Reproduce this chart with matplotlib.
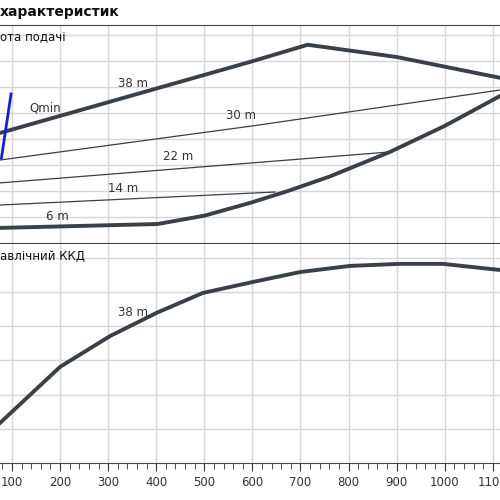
import numpy as np
import matplotlib
matplotlib.use("Agg")
import matplotlib.pyplot as plt
from matplotlib.ticker import MultipleLocator

# Top panel (head) curves
h38_x = [75, 595, 715, 900, 1115]
h38_y = [4.23, 6.96, 7.62, 7.15, 6.35]
max_x = [75, 403, 500, 595, 674, 760, 886, 1000, 1115]
max_y = [0.58, 0.73, 1.05, 1.54, 2.0, 2.55, 3.5, 4.5, 5.65]
h30_x = [75, 600, 1115]
h30_y = [3.19, 4.5, 5.88]
h22_x = [75, 886]
h22_y = [2.31, 3.5]
h14_x = [75, 647]
h14_y = [1.46, 1.96]
qmin_x = [78, 98]
qmin_y = [3.27, 5.73]

# Bottom panel (efficiency) curve
eff_x = [75, 200, 304, 401, 497, 601, 699, 803, 907, 996, 1115]
eff_y = [1.17, 2.81, 3.71, 4.39, 4.97, 5.29, 5.58, 5.76, 5.82, 5.82, 5.64]

xticks = list(range(100, 1200, 100))
dark = "#3a4048"
grid = "#d6d6d6"

fig = plt.figure(figsize=(5, 5), dpi=100)
ax1 = fig.add_axes([0, 0.514, 1, 0.436])
ax2 = fig.add_axes([0, 0.074, 1, 0.438])

for ax, ytop in ((ax1, 8.38), (ax2, 6.4)):
    ax.set_xlim(75, 1115)
    ax.set_ylim(0, ytop)
    ax.set_yticks(np.arange(1, int(ytop) + 1))
    ax.set_xticks(xticks)
    ax.grid(True, color=grid, lw=1)
    ax.set_axisbelow(True)
    for s in ("left", "right"):
        ax.spines[s].set_visible(False)
    ax.spines["top"].set_color("#444")
    ax.spines["bottom"].set_color("#444")
    ax.tick_params(left=False, labelleft=False)

ax1.tick_params(bottom=False, labelbottom=False)
ax2.spines["top"].set_visible(False)
ax2.xaxis.set_minor_locator(MultipleLocator(20))
ax2.tick_params(axis="x", which="major", length=6, direction="out", labelsize=8.5, colors="#333")
ax2.tick_params(axis="x", which="minor", length=4, direction="out", colors="#333")

ax1.plot(h38_x, h38_y, color=dark, lw=2.8, solid_capstyle="round")
ax1.plot(max_x, max_y, color=dark, lw=2.8, solid_capstyle="round")
for xs, ys in ((h30_x, h30_y), (h22_x, h22_y), (h14_x, h14_y)):
    ax1.plot(xs, ys, color=dark, lw=0.9)
ax1.plot(qmin_x, qmin_y, color="#1020e0", lw=2)

lab = dict(fontsize=8.5, color="#333")
ax1.text(320, 6.0, "38 m", **lab)
ax1.text(545, 4.75, "30 m", **lab)
ax1.text(415, 3.2, "22 m", **lab)
ax1.text(300, 1.95, "14 m", **lab)
ax1.text(170, 0.9, "6 m", **lab)
ax1.text(136, 5.05, "Qmin", **lab)
ax1.text(75, 7.9, "ота подачі", fontsize=8.5, color="#111", va="center")

ax2.plot(eff_x, eff_y, color=dark, lw=2.8)
ax2.text(320, 4.3, "38 m", **lab)
ax2.text(75, 6.05, "авлічний ККД", fontsize=8.5, color="#111", va="center")

fig.text(0, 0.976, "характеристик", fontsize=10, fontweight="bold", va="center", color="#111")

fig.savefig("out.png", dpi=100)
